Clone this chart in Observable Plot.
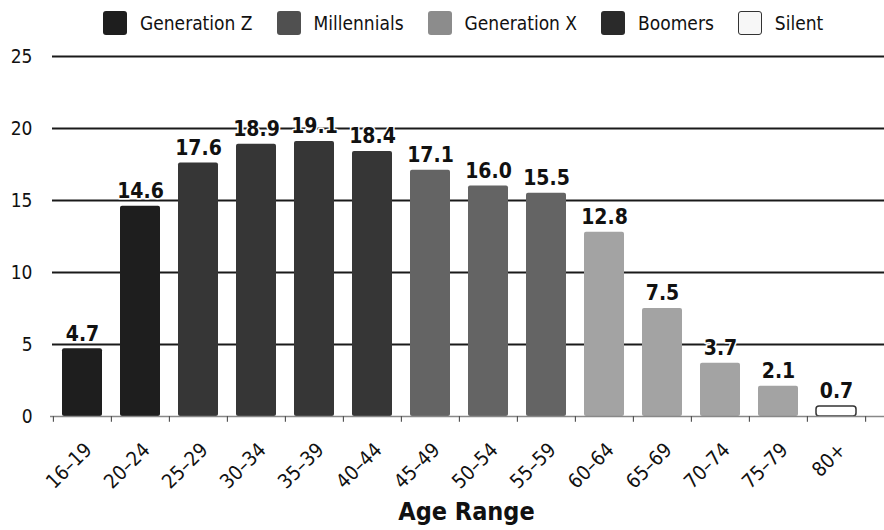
<!DOCTYPE html>
<html><head><meta charset="utf-8">
<script src="https://cdn.jsdelivr.net/npm/d3@7"></script>
<script src="https://cdn.jsdelivr.net/npm/@observablehq/plot@0.6"></script>
<style>
body{margin:0;background:#fff;font-family:"Liberation Sans Narrow","DejaVu Sans Condensed",sans-serif;color:#111;}
#legend{height:45px;display:flex;align-items:center;padding-left:103px;box-sizing:border-box;font-size:19px;}
.item{display:flex;align-items:center;margin-right:24px;}
.sw{width:24px;height:24px;border-radius:3px;box-sizing:border-box;margin-right:13px;}
svg{display:block;}
</style></head><body>
<div id="legend"></div>
<div id="chart"></div>
<script>
const ageRanges = ["16–19","20–24","25–29","30–34","35–39","40–44","45–49","50–54","55–59","60–64","65–69","70–74","75–79","80+"];
const shares = [4.7,14.6,17.6,18.9,19.1,18.4,17.1,16.0,15.5,12.8,7.5,3.7,2.1,0.7];
const generations = ["Generation Z","Generation Z","Millennials","Millennials","Millennials","Millennials","Generation X","Generation X","Generation X","Boomers","Boomers","Boomers","Boomers","Silent"];
const genNames = ["Generation Z","Millennials","Generation X","Boomers","Silent"];
const barColors = ["#1e1e1e","#363636","#646464","#a3a3a3","#ffffff"];
const legendColors = ["#1e1e1e","#505050","#8c8c8c","#2a2a2a","#f7f7f7"];
const yTicks = [0,5,10,15,20,25];

const legend = document.getElementById("legend");
genNames.forEach((g,i)=>{
  const it = document.createElement("div"); it.className="item";
  const sw = document.createElement("div"); sw.className="sw";
  sw.style.background = legendColors[i];
  if (g==="Silent") sw.style.border = "1.5px solid #333";
  const lb = document.createElement("span"); lb.textContent = g;
  it.appendChild(sw); it.appendChild(lb); legend.appendChild(it);
});

const data = ageRanges.map((a,i)=>({age:a, value:shares[i], gen:generations[i]}));
const W = 884, ML = 52, MR = 18;
const step = (W - ML - MR) / ageRanges.length;
const font = '"Liberation Sans Narrow","DejaVu Sans Condensed",sans-serif';

const chart = Plot.plot({
  width: W, height: 485,
  marginLeft: ML, marginRight: MR, marginTop: 11, marginBottom: 114,
  style: {fontFamily: font, fontSize: "17px", color: "#111", background: "white"},
  x: {domain: ageRanges, paddingInner: 0.31, paddingOuter: 0.155, label: null},
  y: {domain: [0,25], label: null},
  color: {domain: genNames, range: barColors},
  marks: [
    Plot.ruleY(yTicks.filter(d=>d>0), {stroke:"#1a1a1a", strokeWidth:1.8, insetRight:-MR}),
    Plot.barY(data, {x:"age", y:"value", fill:"gen", rx:2}),
    Plot.barY(data, {filter: d=>d.gen==="Silent", x:"age", y:"value", fill:"white", stroke:"#333", strokeWidth:1.5, rx:3}),
    Plot.ruleY([0], {stroke:"#888", strokeWidth:1.5, insetLeft:-2, insetRight:-MR}),
    Plot.ruleX(ageRanges, {x: d=>d, y1: 0, y2: -0.4, dx: -step/2, stroke:"#555", strokeWidth:1.2}),
    Plot.ruleX([ageRanges[ageRanges.length-1]], {x: d=>d, y1: 0, y2: -0.4, dx: step/2, stroke:"#555", strokeWidth:1.2}),
    Plot.text(data, {x:"age", y:"value", text: d=>d.value.toFixed(1), dy:-15, fontSize:21, fontWeight:"bold", fill:"#111", stroke:"white", strokeWidth:3, paintOrder:"stroke"}),
    Plot.axisY({ticks: yTicks, tickSize: 0, tickPadding: 20, fontSize: 19}),
    Plot.axisX({tickSize: 0, tickRotate: -45, tickPadding: 16, dx: 6, dy: 14, fontSize: 20}),
    Plot.text(["Age Range"], {frameAnchor:"bottom", dy: 103, dx: 7, fontSize: 25, fontWeight:"bold"})
  ]
});
document.getElementById("chart").appendChild(chart);
</script>
</body></html>
